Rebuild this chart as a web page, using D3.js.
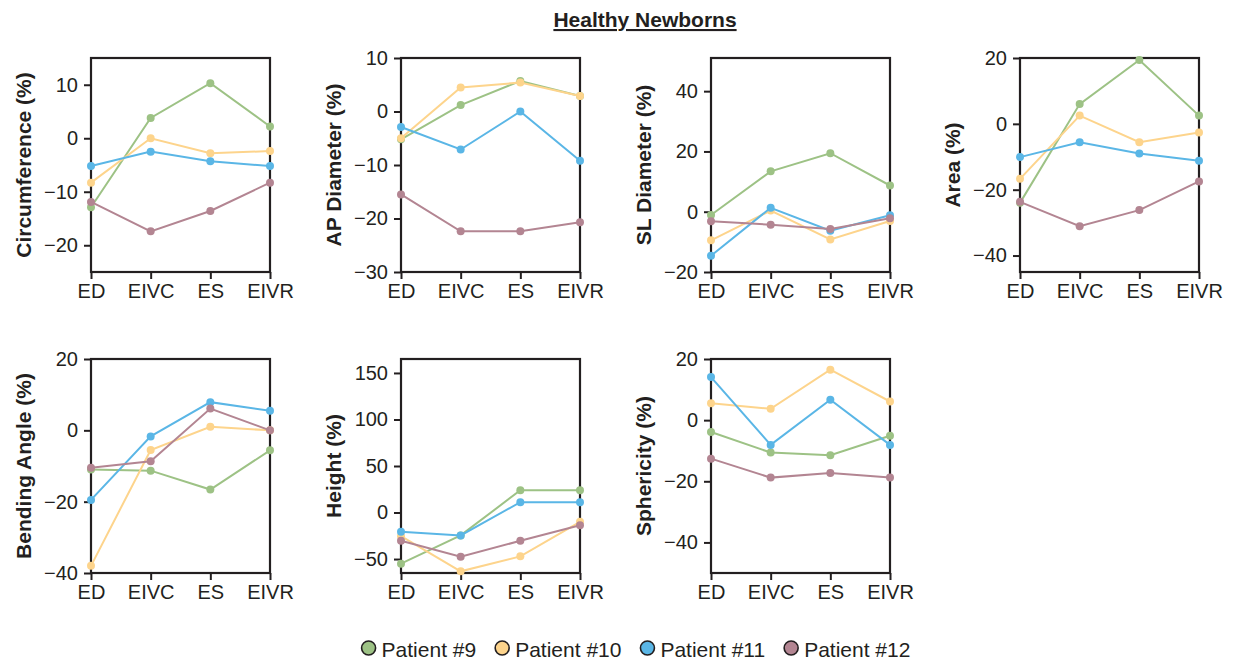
<!DOCTYPE html>
<html>
<head>
<meta charset="utf-8">
<script src="https://cdn.jsdelivr.net/npm/d3@7"></script>
<style>
	body { margin: 0; background: #fff; }
	svg { display: block; font-family: "Liberation Sans", Arial, Helvetica, sans-serif; }
</style>
</head>
<body>
<div id="chart"></div>
<script>
const phases = ["ED", "EIVC", "ES", "EIVR"];
const patients = ["Patient #9", "Patient #10", "Patient #11", "Patient #12"];
const colors = ["#9dc285", "#fdd48c", "#5ab6e6", "#b38592"];

// one row per patient (#9, #10, #11, #12), one value per phase
const circumference = [
	[-12.9, 3.8, 10.3, 2.2],
	[-8.3, 0, -2.8, -2.4],
	[-5.2, -2.5, -4.3, -5.2],
	[-11.9, -17.4, -13.6, -8.3],
];
const apDiameter = [
	[-5.2, 1.2, 5.7, 2.9],
	[-5, 4.5, 5.4, 2.9],
	[-2.9, -7.1, 0, -9.2],
	[-15.5, -22.4, -22.4, -20.7],
];
const slDiameter = [
	[-1.1, 13.4, 19.4, 8.7],
	[-9.5, 0.4, -9.2, -3.1],
	[-14.6, 1.3, -6.3, -1.2],
	[-3.2, -4.3, -5.7, -2.2],
];
const area = [
	[-24, 6, 19.4, 2.5],
	[-16.7, 2.5, -5.6, -2.6],
	[-10.1, -5.6, -9, -11.2],
	[-23.7, -31.1, -26.2, -17.5],
];
const bendingAngle = [
	[-11, -11.3, -16.6, -5.6],
	[-38, -5.5, 1, 0],
	[-19.5, -1.7, 7.9, 5.5],
	[-10.5, -8.7, 6.1, 0],
];
const height = [
	[-55, -24.6, 23.9, 23.9],
	[-25.4, -63.2, -47.1, -10],
	[-20.7, -24.6, 11.1, 11.1],
	[-30.4, -47.5, -30.4, -13.6],
];
const sphericity = [
	[-3.9, -10.6, -11.5, -5.1],
	[5.5, 3.7, 16.5, 6.1],
	[14.1, -8.1, 6.7, -8.1],
	[-12.6, -18.8, -17.3, -18.8],
];

const panelTitles = ["Circumference (%)", "AP Diameter (%)", "SL Diameter (%)", "Area (%)",
	"Bending Angle (%)", "Height (%)", "Sphericity (%)"];
const panelValues = [circumference, apDiameter, slDiameter, area, bendingAngle, height, sphericity];
const panelDomains = [[-25, 15], [-30, 10], [-20, 51], [-45, 20], [-40, 20], [-65, 165], [-50, 20]];
const panelTicks = [
	[-20, -10, 0, 10],
	[-30, -20, -10, 0, 10],
	[-20, 0, 20, 40],
	[-40, -20, 0, 20],
	[-40, -20, 0, 20],
	[-50, 0, 50, 100, 150],
	[-40, -20, 0, 20],
];

const svgWidth = 1234;
const svgHeight = 659;
const colLeft = [91, 401, 711, 1020];
const rowTop = [58, 359];
const plotW = 179;
const plotH = 214;
const ink = "#231f20";

const svg = d3.select("#chart")
	.append("svg")
	.attr("width", svgWidth)
	.attr("height", svgHeight);

// title
svg.append("text")
	.attr("x", 645)
	.attr("y", 27)
	.attr("text-anchor", "middle")
	.style("font-size", "21px")
	.style("font-weight", "bold")
	.style("text-decoration", "underline")
	.attr("fill", ink)
	.text("Healthy Newborns");

const createPanel = (i) => {
	const left = colLeft[i % 4];
	const top = rowTop[Math.floor(i / 4)];

	const x = d3.scalePoint().domain(phases).range([0, plotW]).padding(0);
	const y = d3.scaleLinear().domain(panelDomains[i]).range([plotH, 0]);

	const g = svg.append("g").attr("transform", `translate(${left}, ${top})`);

	const yAxis = g.append("g")
		.call(d3.axisLeft(y).tickValues(panelTicks[i]).tickSize(7).tickPadding(6));
	const xAxis = g.append("g")
		.attr("transform", `translate(0, ${plotH})`)
		.call(d3.axisBottom(x).tickSize(7).tickPadding(5));

	[yAxis, xAxis].forEach((a) => {
		a.select(".domain").remove();
		a.selectAll(".tick line").attr("stroke", ink).attr("stroke-width", 2);
		a.selectAll(".tick text")
			.attr("fill", ink)
			.style("font-size", "20px")
			.style("font-family", "'Liberation Sans', Arial, sans-serif");
	});

	g.append("rect")
		.attr("width", plotW)
		.attr("height", plotH)
		.attr("fill", "none")
		.attr("stroke", ink)
		.attr("stroke-width", 2.2);

	const line = d3.line()
		.x((d, j) => x(phases[j]))
		.y((d) => y(d));

	panelValues[i].forEach((series, s) => {
		g.append("path")
			.datum(series)
			.attr("d", line)
			.attr("fill", "none")
			.attr("stroke", colors[s])
			.attr("stroke-width", 2);
		g.selectAll(null)
			.data(series)
			.join("circle")
			.attr("cx", (d, j) => x(phases[j]))
			.attr("cy", (d) => y(d))
			.attr("r", 4)
			.attr("fill", colors[s]);
	});

	g.append("text")
		.attr("transform", `translate(-68, ${plotH / 2}) rotate(-90)`)
		.attr("text-anchor", "middle")
		.attr("dominant-baseline", "central")
		.style("font-size", "21px")
		.style("font-weight", "bold")
		.attr("fill", ink)
		.text(panelTitles[i]);
};

for (let i = 0; i < panelValues.length; i++) {
	createPanel(i);
}

// legend, centred under the panels
const legend = svg.append("g");
let cursor = 0;
patients.forEach((p, s) => {
	const item = legend.append("g").attr("transform", `translate(${cursor}, 0)`);
	item.append("circle")
		.attr("cx", 7)
		.attr("cy", 0)
		.attr("r", 7)
		.attr("fill", colors[s])
		.attr("stroke", ink)
		.attr("stroke-width", 1.6);
	const t = item.append("text")
		.attr("x", 20)
		.attr("y", 1)
		.attr("dominant-baseline", "central")
		.style("font-size", "21px")
		.attr("fill", ink)
		.text(p);
	cursor += 20 + t.node().getComputedTextLength() + 19;
});
const legendWidth = cursor - 19;
legend.attr("transform", `translate(${636 - legendWidth / 2}, 648)`);
</script>
</body>
</html>
